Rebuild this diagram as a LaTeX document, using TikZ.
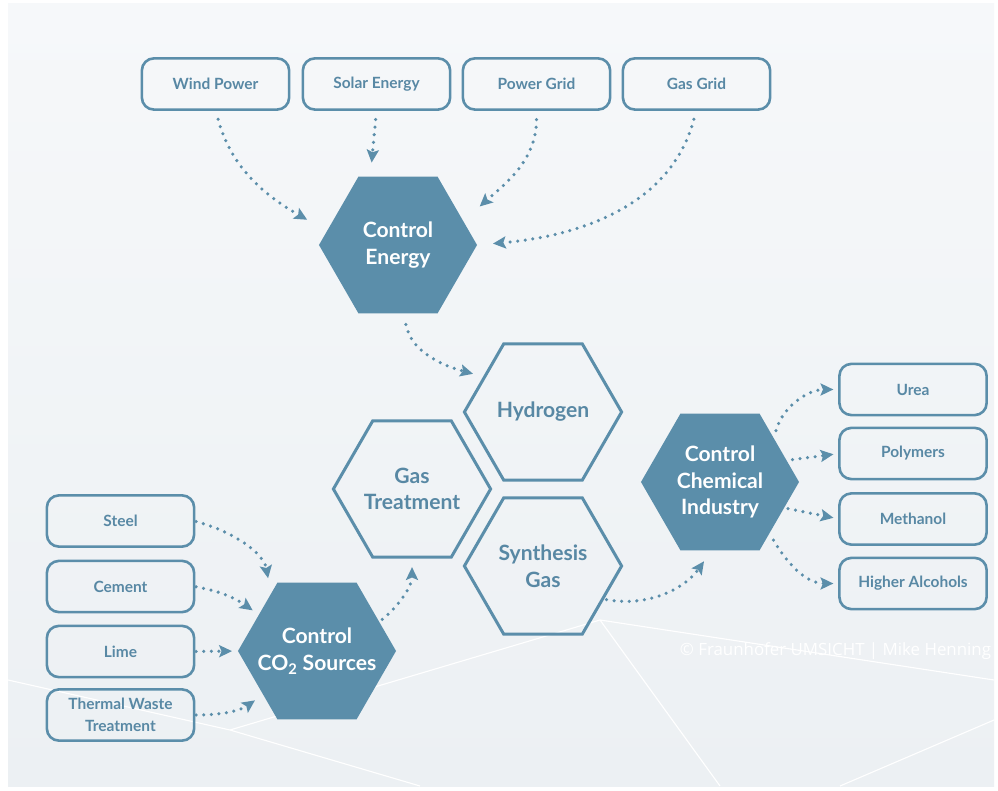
\documentclass[tikz,border=0pt]{standalone}
\usepackage{fontspec}
\setmainfont{Lato}
\newfontfamily\creditfont{Open Sans}
\usetikzlibrary{shapes.geometric, arrows.meta}
\definecolor{hexblue}{RGB}{91,142,170}
\definecolor{textblue}{RGB}{88,136,164}
\definecolor{bgtop}{RGB}{246,248,250}
\definecolor{bgbottom}{RGB}{236,240,243}

\begin{document}
\begin{tikzpicture}[x=0.025cm, y=0.025cm, font=\bfseries,
	box/.style={draw=hexblue, line width=0.065cm, rounded corners=0.3cm, minimum width=3.68cm, minimum height=1.28cm, inner sep=0pt, outer sep=0pt, text=textblue, align=center, font=\fontsize{11}{15.5}\selectfont\bfseries},
	hexfull/.style={regular polygon, regular polygon sides=6, minimum size=3.95cm, inner xsep=-0.8cm, inner ysep=-0.3cm, outer sep=0pt, fill=hexblue, text=white, align=center, font=\fontsize{15}{19}\selectfont\bfseries},
	hexline/.style={hexfull, fill=none, draw=hexblue, line width=0.075cm, minimum size=3.93cm, text=textblue},
	flow/.style={draw=hexblue, line width=2.5pt, line cap=round, dash pattern=on 0pt off 0.19cm, -{Stealth[length=0.32cm, width=0.3cm, inset=0.06cm]}}]
	
	% background
	\fill[white] (0,0) rectangle (998,790);
	\shade[top color=bgtop, bottom color=bgbottom] (8,4) rectangle (994,786);
	\draw[white, line width=0.8pt] (8,110) -- (230,60) -- (420,4);
	\draw[white, line width=0.8pt] (230,60) -- (600,170) -- (994,110);
	\draw[white, line width=0.8pt] (600,170) -- (720,4);
	\draw[white, line width=0.8pt] (840,4) -- (994,70);
	\useasboundingbox (0,0) rectangle (998,790);
	
	% energy sources
	\node[box] (wind) at (215.5,706) {Wind Power};
	\node[box] (solar) at (376.5,706) {Solar Energy};
	\node[box] (pgrid) at (536.5,706) {Power Grid};
	\node[box] (ggrid) at (696.5,706) {Gas Grid};
	
	% hexagons
	\node[hexfull] (energy) at (398,545) {Control\\Energy};
	\node[hexline] (hydrogen) at (543,378) {Hydrogen};
	\node[hexline] (gastreat) at (412,301) {Gas\\Treatment};
	\node[hexline] (syngas) at (543,224) {Synthesis\\Gas};
	\node[hexfull] (chem) at (720,308) {Control\\Chemical\\Industry};
	\node[hexfull] (cosources) at (317,139) {Control\\CO\textsubscript{2} Sources};
	
	% products
	\node[box] (urea) at (913,400.5) {Urea};
	\node[box] (polymers) at (913,336.5) {Polymers};
	\node[box] (methanol) at (913,271) {Methanol};
	\node[box] (higher) at (913,206.5) {Higher Alcohols};
	
	% CO2 sources
	\node[box] (steel) at (120.5,269) {Steel};
	\node[box] (cement) at (120.5,203.5) {Cement};
	\node[box] (lime) at (120.5,138.5) {Lime};
	\node[box] (thermal) at (120.5,75) {Thermal Waste\\Treatment};
	
	\node[anchor=east, text=white, font=\creditfont\fontsize{12}{14}\selectfont] (credit) at (996,139) {© Fraunhofer UMSICHT | Mike Henning};
	
	% arrows into Control Energy
	\draw[flow, shorten <=0.25cm, shorten >=0.57cm] (wind.south) to[out=-75, in=150] (energy.169);
	\draw[flow, shorten <=0.25cm, shorten >=0.35cm] (solar.south) -- (energy.112);
	\draw[flow, shorten <=0.25cm, shorten >=0.55cm] (pgrid.south) to[out=-90, in=42] (energy.20);
	\draw[flow, shorten <=0.25cm, shorten >=0.4cm] (ggrid.south) to[out=-105, in=5] (energy.east);
	\draw[flow, shorten <=0.28cm, shorten >=0.3cm] (energy.-85) to[out=-80, in=165] (hydrogen.149);
	
	% arrows into Control CO2 Sources
	\draw[flow, shorten <=0.05cm, shorten >=0.4cm] (steel.east) to[out=-15, in=100] (cosources.129);
	\draw[flow, shorten <=0.05cm, shorten >=0.19cm] (cement.east) to[out=-10, in=145] (cosources.148);
	\draw[flow, shorten <=0.05cm, shorten >=0.15cm] (lime.east) -- (cosources.west);
	\draw[flow, shorten <=0.05cm, shorten >=0.25cm] (thermal.east) to[out=0, in=-145] (cosources.219);
	\draw[flow, shorten <=0.1cm, shorten >=0.25cm] (cosources.25) to[out=40, in=-90] (gastreat.south);
	
	% arrows to products
	\draw[flow, shorten <=0.1cm, shorten >=0.33cm] (syngas.-29) to[out=-10, in=-125] (chem.-97);
	\draw[flow, shorten <=0.2cm, shorten >=0.15cm] (chem.39) to[out=75, in=180] (urea.west);
	\draw[flow, shorten <=0.15cm, shorten >=0.15cm] (chem.18) -- (polymers.west);
	\draw[flow, shorten <=0.1cm, shorten >=0.15cm] (chem.-22) -- (methanol.west);
	\draw[flow, shorten <=0.2cm, shorten >=0.15cm] (chem.-46) to[out=-60, in=180] (higher.west);
\end{tikzpicture}
\end{document}
